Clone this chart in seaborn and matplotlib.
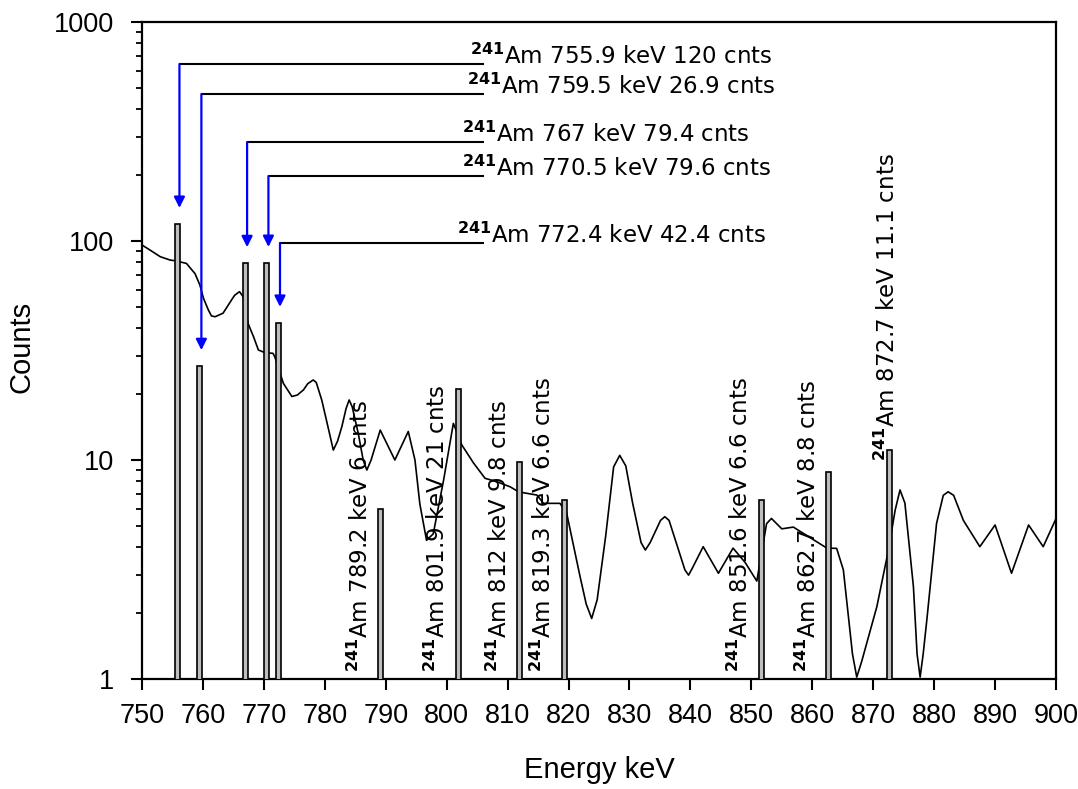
import matplotlib
matplotlib.use("Agg")
import matplotlib.pyplot as plt
import seaborn as sns
import pandas as pd

# Background spectrum (energy in keV, counts)
energy_keV = [750.0, 751.3, 753.0, 754.6, 755.7, 757.3, 758.7, 759.5, 760.1, 760.9,
              761.4, 762.0, 763.3, 764.7, 765.2, 766.0, 766.6, 767.4, 768.3, 769.1,
              770.2, 771.5, 771.8, 773.2, 774.6, 775.5, 776.5, 777.2, 778.1, 778.6,
              779.5, 780.7, 781.4, 782.1, 782.8, 783.5, 784.0, 784.5, 785.5, 786.3,
              786.9, 787.6, 789.1, 791.5, 793.7, 794.8, 795.6, 796.7, 797.8, 799.5,
              801.1, 802.5, 804.4, 806.3, 808.2, 810.4, 811.8, 813.1, 814.8, 815.9,
              818.6, 819.7, 821.9, 822.9, 823.8, 824.7, 826.1, 827.4, 828.4, 829.4,
              830.5, 831.9, 832.6, 833.4, 835.1, 835.8, 836.5, 839.1, 839.7, 840.3,
              842.1, 844.6, 847.0, 849.0, 850.9, 852.5, 853.3, 855.0, 856.9, 859.6,
              862.4, 864.0, 865.1, 866.6, 867.3, 868.1, 870.6, 872.5, 873.6, 874.4,
              875.2, 876.6, 877.2, 877.7, 878.2, 878.8, 880.4, 881.5, 882.3, 883.2,
              884.8, 887.5, 890.0, 892.7, 895.5, 897.9, 900.0]
spectrum_counts = [95.9, 91, 84.8, 81.9, 81, 79, 71, 63, 54.7, 48.4,
                   45.5, 45.1, 46.8, 53.8, 56.5, 58.7, 55.7, 42.1, 36.6, 31.8,
                   30.9, 30.7, 29.6, 22.4, 19.5, 19.8, 20.9, 22.3, 23.2, 22.6,
                   18.8, 13.5, 11.1, 12.2, 14.2, 17.2, 18.8, 17.5, 13.2, 10.0,
                   9.0, 10.0, 13.7, 10.0, 13.5, 10.0, 6.3, 4.3, 4.6, 8.1,
                   14.7, 11.7, 9.7, 8.25, 7.96, 7.55, 7.16, 7.05, 6.92, 6.34,
                   6.34, 5.71, 2.93, 2.2, 1.89, 2.3, 4.5, 9.3, 10.5, 9.4,
                   6.4, 4.2, 3.88, 4.2, 5.3, 5.51, 5.3, 3.15, 2.98, 3.2,
                   4.02, 3.04, 3.96, 3.4, 2.8, 5.12, 5.41, 4.85, 4.94, 4.43,
                   3.96, 3.95, 3.15, 1.3, 1.02, 1.2, 2.14, 3.88, 5.9, 7.3,
                   6.36, 2.64, 1.3, 1.02, 1.3, 1.86, 5.14, 6.9, 7.16, 6.9,
                   5.3, 4.02, 5.05, 3.04, 5.05, 4.02, 5.4]

# 241Am gamma lines
peak_energy = [755.9, 759.5, 767, 770.5, 772.4, 789.2, 801.9, 812, 819.3, 851.6, 862.7, 872.7]
peak_counts = [120, 26.9, 79.4, 79.6, 42.4, 6, 21, 9.8, 6.6, 6.6, 8.8, 11.1]
mass_number = "241"
element = "Am"

x_ticks = list(range(750, 901, 10))
y_ticks = [1, 10, 100, 1000]
y_tick_labels = ["1", "10", "100", "1000"]

# Callout layout for the five crowded lines on the left
callout_level = [643, 469, 283, 198, 98]          # height of the leader line (counts)
callout_text_x = [803.8, 803.3, 802.5, 802.5, 801.7]
callout_line_end = 806.2
# Vertical label layout for the remaining lines: (x offset keV, bottom counts)
vertical_label_pos = [(-1.3, 1.08)] * 6 + [(1.6, 9.9)]

sns.set_theme(style="ticks")
plt.rcParams["font.family"] = ["Liberation Sans", "DejaVu Sans"]
plt.rcParams["mathtext.default"] = "regular"

fig = plt.figure(figsize=(10.78, 7.89), dpi=100)
ax = fig.add_axes([0.1317, 0.1394, 0.8479, 0.8327])

spec = pd.DataFrame({"Energy keV": energy_keV, "Counts": spectrum_counts})
sns.lineplot(data=spec, x="Energy keV", y="Counts", ax=ax, color="black",
             linewidth=1.2, zorder=2)

ax.bar(peak_energy, peak_counts, width=0.8, color="#bdbdbd", edgecolor="black",
       linewidth=1.2, zorder=3)

ax.set_yscale("log")
ax.set_xlim(750, 900)
ax.set_ylim(1, 1000)

def label_for(e, c):
    return f"$^{{\\mathbf{{{mass_number}}}}}${element} {e:g} keV {c:g} cnts"

label_font = dict(family=["DejaVu Sans"], fontsize=16.5)

# Leader lines with blue arrows
for i in range(5):
    e, c = peak_energy[i], peak_counts[i]
    xa = e + 0.25
    lvl = callout_level[i]
    ax.plot([xa, callout_line_end], [lvl, lvl], color="black", lw=1.5,
            zorder=4, solid_capstyle="butt")
    ax.annotate("", xy=(xa, c * 1.18), xytext=(xa, lvl),
                arrowprops=dict(arrowstyle="-|>", color="#0000ff", lw=1.6,
                                mutation_scale=16, shrinkA=0, shrinkB=0),
                zorder=4)
    ax.text(callout_text_x[i], lvl, label_for(e, c), ha="left", va="baseline",
            color="black", zorder=5, **label_font)

# Vertical labels
for (e, c), (dx, yb) in zip(zip(peak_energy[5:], peak_counts[5:]), vertical_label_pos):
    ax.text(e + dx, yb, label_for(e, c), rotation=90, ha="right", va="bottom",
            rotation_mode="default", color="black", zorder=5, **label_font)

ax.set_xticks(x_ticks)
ax.set_xticklabels([str(t) for t in x_ticks])
ax.set_yticks(y_ticks)
ax.set_yticklabels(y_tick_labels)
ax.minorticks_on()
ax.xaxis.set_minor_locator(matplotlib.ticker.NullLocator())

for lab in ax.get_xticklabels() + ax.get_yticklabels():
    lab.set_family(["Liberation Sans"])
    lab.set_fontsize(19.5)
    lab.set_color("black")

ax.tick_params(axis="both", which="major", direction="out", length=8, width=1.5,
               color="black", top=False, right=False)
ax.tick_params(axis="x", which="major", pad=9)
ax.tick_params(axis="y", which="major", pad=12)
ax.tick_params(axis="y", which="minor", direction="out", length=4, width=1.3,
               color="black", right=False)

for side in ["left", "right", "top", "bottom"]:
    ax.spines[side].set_visible(True)
    ax.spines[side].set_linewidth(1.6)
    ax.spines[side].set_color("black")

ax.set_xlabel("Energy keV", fontsize=21, family=["Liberation Sans"], color="black")
ax.set_ylabel("Counts", fontsize=21, family=["Liberation Sans"], color="black")
ax.xaxis.set_label_coords(0.5, -0.117)
ax.yaxis.set_label_coords(-0.117, 0.505)
ax.grid(False)
ax.set_facecolor("white")
fig.patch.set_facecolor("white")

fig.savefig("out.png", dpi=100, facecolor="white")
